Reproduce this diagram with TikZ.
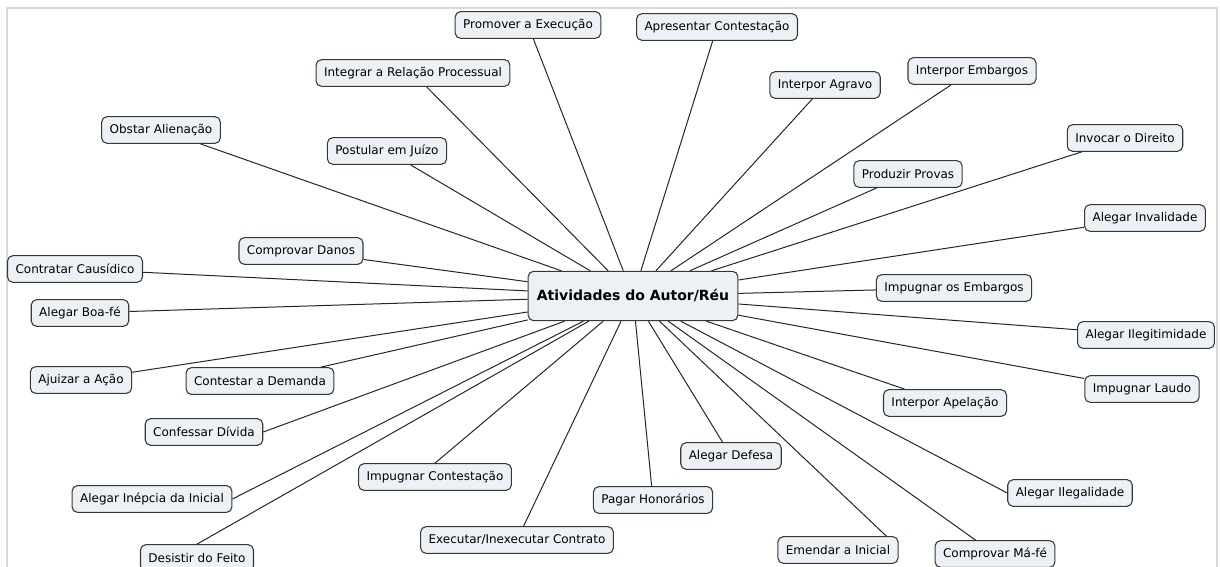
\documentclass[tikz,border=0pt]{standalone}
\usepackage{fontspec}
\setmainfont{DejaVu Sans}
\usepackage{tikz}
\usetikzlibrary{positioning}

\definecolor{caixa}{RGB}{235,241,244}
\definecolor{borda}{RGB}{55,55,55}
\definecolor{moldura}{RGB}{218,218,218}

\tikzset{
  ideia/.style={draw=borda,fill=caixa,rounded corners=4pt,line width=0.8pt,
    inner xsep=6pt,inner ysep=0pt,minimum height=20pt,
    font=\fontsize{9}{11}\selectfont},
  nucleo/.style={ideia,minimum height=37pt,inner xsep=6.5pt,
    font=\fontsize{10.5}{12}\selectfont\bfseries},
  ligacao/.style={draw=black!85,line width=0.75pt}
}

\begin{document}
\begin{tikzpicture}[x=0.75pt,y=-0.75pt]
\useasboundingbox (0,0) rectangle (1220,567);
\draw[moldura,line width=1.5pt] (7,567) -- (7,8) -- (1217,8) -- (1217,567);

\node[nucleo] (nucleo) at (633,296) {Atividades do Autor/Réu};

\node[ideia] (promover) at (528,25) {Promover a Execução};
\node[ideia] (apresentar) at (717,27) {Apresentar Contestação};
\node[ideia] (integrar) at (413,73) {Integrar a Relação Processual};
\node[ideia] (agravo) at (825,85) {Interpor Agravo};
\node[ideia] (embargos) at (972,71) {Interpor Embargos};
\node[ideia] (obstar) at (161,130) {Obstar Alienação};
\node[ideia] (postular) at (387,151) {Postular em Juízo};
\node[ideia] (invocar) at (1125,138) {Invocar o Direito};
\node[ideia] (provas) at (908,174) {Produzir Provas};
\node[ideia] (invalidade) at (1145,218) {Alegar Invalidade};
\node[ideia] (danos) at (301,251) {Comprovar Danos};
\node[ideia] (causidico) at (75,269) {Contratar Causídico};
\node[ideia] (boafe) at (80,313) {Alegar Boa-fé};
\node[ideia] (impembargos) at (954,288) {Impugnar os Embargos};
\node[ideia] (ilegitimidade) at (1146,335) {Alegar Ilegitimidade};
\node[ideia] (ajuizar) at (81,380) {Ajuizar a Ação};
\node[ideia] (contestar) at (260,381) {Contestar a Demanda};
\node[ideia] (laudo) at (1142,389) {Impugnar Laudo};
\node[ideia] (apelacao) at (945,403) {Interpor Apelação};
\node[ideia] (confessar) at (204,432) {Confessar Dívida};
\node[ideia] (defesa) at (731,456) {Alegar Defesa};
\node[ideia] (impcontestacao) at (435,477) {Impugnar Contestação};
\node[ideia] (ilegalidade) at (1070,493) {Alegar Ilegalidade};
\node[ideia] (inepcia) at (152,499) {Alegar Inépcia da Inicial};
\node[ideia] (honorarios) at (653,500) {Pagar Honorários};
\node[ideia] (contrato) at (517,540) {Executar/Inexecutar Contrato};
\node[ideia] (emendar) at (838,550) {Emendar a Inicial};
\node[ideia] (mafe) at (995,554) {Comprovar Má-fé};
\node[ideia] (desistir) at (197,558) {Desistir do Feito};

% acima
\draw[ligacao] (nucleo) -- (promover);
\draw[ligacao] (nucleo) -- (apresentar);
\draw[ligacao] (nucleo) -- (integrar);
\draw[ligacao] (nucleo) -- (agravo);
\draw[ligacao] (nucleo) -- (embargos);
\draw[ligacao] (nucleo) -- (obstar);
\draw[ligacao] (nucleo) -- (postular);
\draw[ligacao] (nucleo) -- (invocar);
\draw[ligacao] (nucleo) -- (provas);
\draw[ligacao] (nucleo) -- (invalidade);
\draw[ligacao] (nucleo) -- (danos);
\draw[ligacao] (nucleo) -- (causidico);

% laterais
\draw[ligacao] (nucleo) -- (boafe);
\draw[ligacao] (nucleo) -- (impembargos);
\draw[ligacao] (nucleo) -- (ilegitimidade);
\draw[ligacao] (nucleo) -- (ajuizar);
\draw[ligacao] (nucleo) -- (contestar);
\draw[ligacao] (nucleo) -- (laudo);

% abaixo
\draw[ligacao] (nucleo) -- (apelacao);
\draw[ligacao] (nucleo) -- (confessar.east);
\draw[ligacao] (nucleo) -- (defesa);
\draw[ligacao] (nucleo) -- (impcontestacao.north);
\draw[ligacao] (nucleo) -- (ilegalidade.west);
\draw[ligacao] (nucleo) -- (inepcia.east);
\draw[ligacao] (nucleo) -- (honorarios);
\draw[ligacao] (nucleo) -- (contrato);
\draw[ligacao] (nucleo) -- (emendar.16);
\draw[ligacao] (nucleo) -- (mafe);
\draw[ligacao] (nucleo) -- (desistir.north);
\end{tikzpicture}
\end{document}
